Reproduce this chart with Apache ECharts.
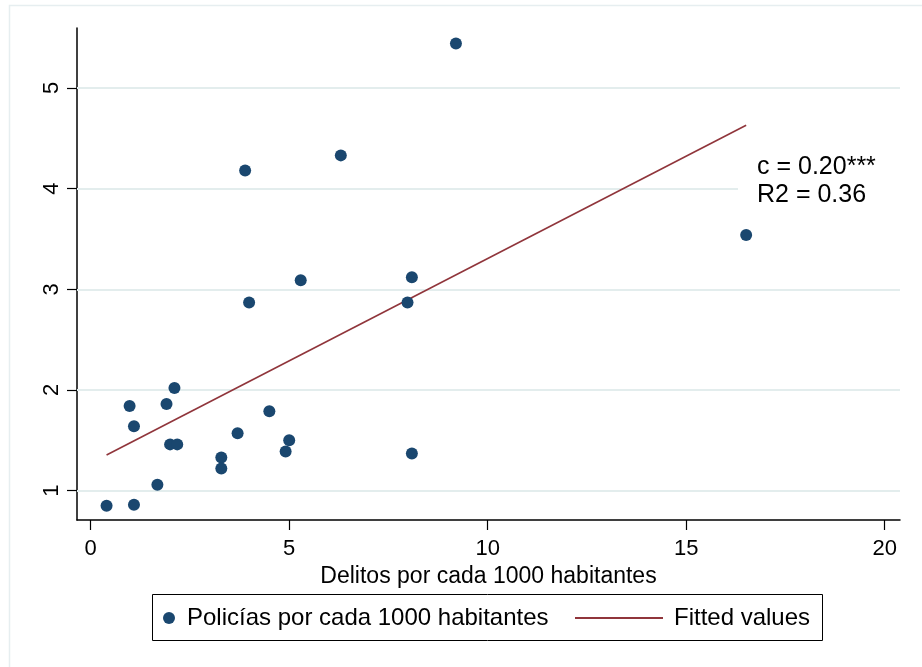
<!DOCTYPE html>
<html>
<head>
<meta charset="utf-8">
<script src="https://cdn.jsdelivr.net/npm/echarts@6/dist/echarts.min.js"></script>
<style>
html,body{margin:0;padding:0;background:#fff;}
#chart{width:922px;height:667px;}
</style>
</head>
<body>
<div id="chart"></div>
<script>
// Data
var delitos = [9.20, 3.89, 6.30, 16.51, 5.29, 8.09, 3.99, 7.98, 2.11, 0.98, 1.91, 1.09, 4.50, 2.00, 2.18, 3.70, 5.00, 4.91, 3.29, 3.29, 8.09, 1.68, 0.40, 1.09];
var policias = [5.44, 4.18, 4.33, 3.54, 3.09, 3.12, 2.87, 2.87, 2.02, 1.84, 1.86, 1.64, 1.79, 1.46, 1.46, 1.57, 1.50, 1.39, 1.33, 1.22, 1.37, 1.06, 0.85, 0.86];
var fitX = [0.40, 16.51];
var fitY = [1.355, 4.63];
var xTicks = [0, 5, 10, 15, 20];
var yTicks = [1, 2, 3, 4, 5];
var annotation = ['c = 0.20***', 'R2 = 0.36'];
var scatterName = 'Policías por cada 1000 habitantes';
var lineName = 'Fitted values';
var xTitle = 'Delitos por cada 1000 habitantes';

var FONT = '"Liberation Sans", Arial, Helvetica, sans-serif';
var scatterData = delitos.map(function (x, i) { return [x, policias[i]]; });
var lineData = fitX.map(function (x, i) { return [x, fitY[i]]; });

var chart = echarts.init(document.getElementById('chart'), null, {renderer: 'canvas'});
chart.setOption({
  backgroundColor: '#ffffff',
  animation: false,
  textStyle: {fontFamily: FONT},
  grid: {left: 77, right: 22, top: 28, bottom: 147, containLabel: false},
  xAxis: {
    type: 'value', min: -0.345, max: 20.385,
    name: xTitle, nameLocation: 'middle', nameGap: 33,
    nameTextStyle: {color: '#000', fontSize: 23, fontFamily: FONT},
    axisLine: {show: true, onZero: false, lineStyle: {color: '#000', width: 1.5}},
    axisTick: {show: true, length: 10, customValues: xTicks, lineStyle: {color: '#000', width: 1.2}},
    axisLabel: {show: true, customValues: xTicks, margin: 18, color: '#000', fontSize: 22, fontFamily: FONT},
    splitLine: {show: false}
  },
  yAxis: {
    type: 'value', min: 0.709, max: 5.595,
    axisLine: {show: true, onZero: false, lineStyle: {color: '#000', width: 1.5}},
    axisTick: {show: true, length: 10, customValues: yTicks, lineStyle: {color: '#000', width: 1.2}},
    axisLabel: {show: true, customValues: yTicks, rotate: 90, margin: 14, color: '#000', fontSize: 22, fontFamily: FONT},
    splitLine: {show: false}
  },
  legend: [
    {
      data: [{name: scatterName, icon: 'circle'}],
      left: 163, top: 606, padding: 0,
      itemWidth: 26, itemHeight: 12,
      textStyle: {color: '#000', fontSize: 24, fontFamily: FONT},
      selectedMode: false
    },
    {
      data: [{name: lineName, icon: 'rect', itemStyle: {color: '#90353b'}}],
      left: 575, top: 606, padding: 0,
      itemWidth: 88, itemHeight: 2,
      textStyle: {color: '#000', fontSize: 24, fontFamily: FONT, padding: [0, 0, 0, 6]},
      selectedMode: false
    }
  ],
  series: [
    {
      name: lineName, type: 'line', data: lineData, z: 2,
      symbol: 'none', showSymbol: false,
      lineStyle: {color: '#90353b', width: 1.6},
      itemStyle: {color: '#90353b'},
      markLine: {
        silent: true, symbol: ['none', 'none'], animation: false, z: 1,
        label: {show: false},
        lineStyle: {color: '#e3eded', width: 1.8, type: 'solid'},
        emphasis: {disabled: true},
        data: yTicks.map(function (v) { return {yAxis: v}; })
      }
    },
    {
      name: scatterName, type: 'scatter', data: scatterData, z: 3,
      symbol: 'circle', symbolSize: 12,
      itemStyle: {color: '#1a476f', opacity: 1}
    }
  ],
  graphic: [
    {type: 'rect', silent: true, z: 0, shape: {x: 9.5, y: 5.5, width: 930, height: 700},
      style: {fill: null, stroke: '#e6eef0', lineWidth: 1.5}},
    {type: 'rect', silent: true, z: 50, shape: {x: 738, y: 148, width: 162, height: 60},
      style: {fill: '#ffffff', stroke: null}},
    {type: 'text', silent: true, z: 51, x: 757, y: 167,
      style: {text: annotation[0], fill: '#000', font: '25px ' + FONT, verticalAlign: 'middle', align: 'left'}},
    {type: 'text', silent: true, z: 51, x: 757, y: 195,
      style: {text: annotation[1], fill: '#000', font: '25px ' + FONT, verticalAlign: 'middle', align: 'left'}},
    {type: 'rect', silent: true, z: 0, shape: {x: 152.5, y: 594.5, width: 670, height: 46},
      style: {fill: null, stroke: '#000', lineWidth: 1}}
  ]
});
</script>
</body>
</html>
